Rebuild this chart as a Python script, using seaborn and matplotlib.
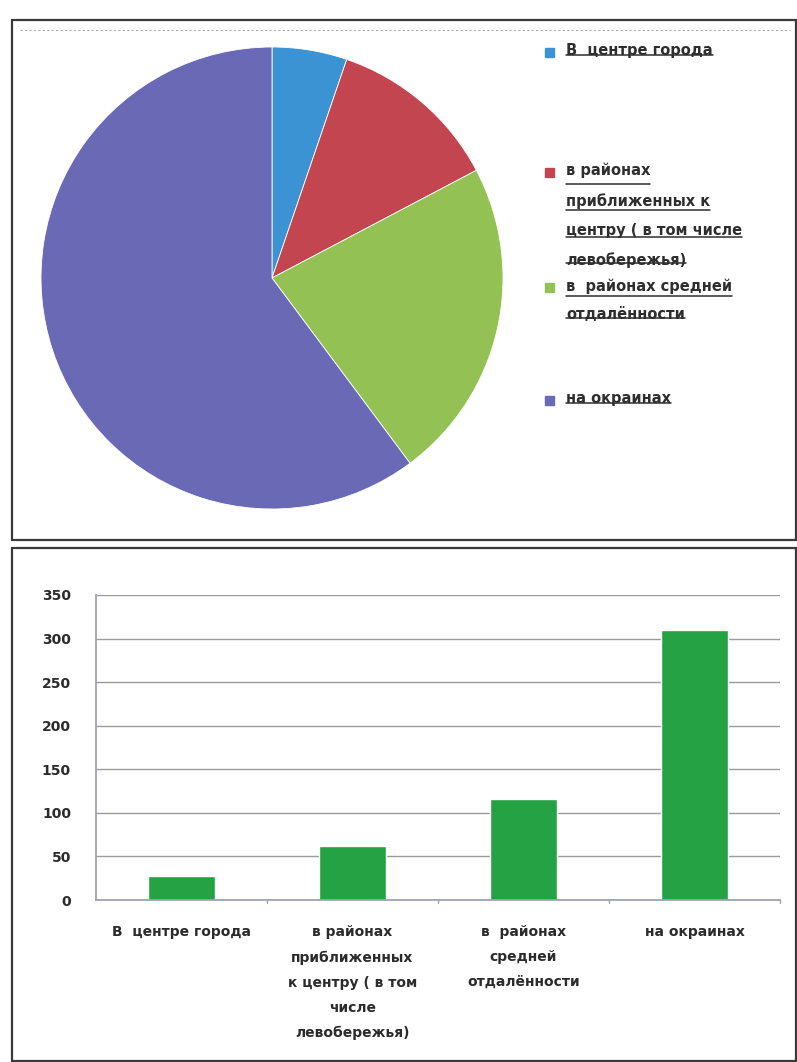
import matplotlib
matplotlib.use("Agg")
import matplotlib.pyplot as plt
import seaborn as sns
import pandas as pd
from matplotlib.patches import Rectangle
from matplotlib.lines import Line2D

# ---- data ----
pie_labels = ["В  центре города",
              "в районах\nприближенных к\nцентру ( в том числе\nлевобережья)",
              "в  районах средней\nотдалённости",
              "на окраинах"]
bar_labels = ["В  центре города",
              "в районах\nприближенных\nк центру ( в том\nчисле\nлевобережья)",
              "в  районах\nсредней\nотдалённости",
              "на окраинах"]
values = [27, 62, 116, 310]
pie_colors = ["#3b93d3", "#c2454f", "#94c153", "#6a69b5"]
bar_color = "#25a244"
yticks = [0, 50, 100, 150, 200, 250, 300, 350]

sns.set_theme(style="white")
plt.rcParams['font.family'] = ['DejaVu Sans']

W, H = 797, 1062
fig = plt.figure(figsize=(W / 100, H / 100), dpi=100)
fig.patch.set_facecolor("white")

def fx(x): return x / W
def fy(y): return 1 - y / H

# panel borders
for (x0, y0, x1, y1) in [(12, 20, 796, 540), (12, 548, 796, 1061)]:
    fig.patches.append(Rectangle((fx(x0), fy(y1)), fx(x1) - fx(x0), fy(y0) - fy(y1),
                                 transform=fig.transFigure, fill=False,
                                 edgecolor="#3a3a3a", linewidth=1.6))
fig.add_artist(Line2D([fx(20), fx(790)], [fy(30), fy(30)], transform=fig.transFigure,
                      color="#aaaaaa", linewidth=0.8, linestyle=(0, (2, 2))))

# ---- pie ----
cx, cy, r = 272, 278, 231
ax_pie = fig.add_axes([fx(cx - r), fy(cy + r), fx(2 * r), (2 * r) / H])
ax_pie.pie(values, colors=pie_colors, startangle=90, counterclock=False,
           wedgeprops=dict(linewidth=0.6, edgecolor="white"), radius=1.0)
ax_pie.set_xlim(-1, 1); ax_pie.set_ylim(-1, 1)
ax_pie.set_aspect("auto")
ax_pie.axis("off")

# legend (manual, underlined)
legend_y = [52, 172, 287, 400]
texts = []
for lab, col, y in zip(pie_labels, pie_colors, legend_y):
    fig.patches.append(Rectangle((fx(545), fy(y + 5)), fx(9), 9 / H,
                                 transform=fig.transFigure, color=col))
    t = fig.text(fx(566), fy(y - 9), lab, ha="left", va="top", fontsize=10.5,
                 fontweight="bold", color="#2e2e2e", linespacing=2.15,
                 family=["DejaVu Sans"])
    texts.append(t)

fig.canvas.draw()
renderer = fig.canvas.get_renderer()
for t in texts:
    lines = t.get_text().split("\n")
    bb = t.get_window_extent(renderer)
    n = len(lines)
    lh = bb.height / n
    for i, ln in enumerate(lines):
        tmp = fig.text(0, 0, ln, fontsize=10.5, fontweight="bold", family=["DejaVu Sans"])
        w = tmp.get_window_extent(renderer).width
        tmp.remove()
        ybase = bb.y1 - (i + 1) * lh + lh * 0.2
        fig.add_artist(Line2D([bb.x0 / W, (bb.x0 + w) / W], [ybase / H, ybase / H],
                              transform=fig.transFigure, color="#2e2e2e", linewidth=1.1))

# ---- bar chart ----
df = pd.DataFrame({"cat": bar_labels, "val": values})
ax = fig.add_axes([fx(96), fy(900), fx(780) - fx(96), (900 - 595) / H])
sns.barplot(data=df, x="cat", y="val", color=bar_color, saturation=1, width=0.39, ax=ax)
ax.set_ylim(0, 350)
ax.set_xlim(-0.5, 3.5)
ax.set_yticks(yticks)
ax.set_yticklabels([str(v) for v in yticks], fontsize=10, fontweight="bold", color="#2b2b2b")
ax.set_xticks(range(4))
ax.set_xticklabels(bar_labels, fontsize=10, fontweight="bold", color="#2b2b2b",
                   linespacing=2.0, va="top", ha="center")
ax.tick_params(axis="x", length=0, pad=18)
ax.tick_params(axis="y", length=0, pad=18)
ax.set_xlabel(""); ax.set_ylabel("")
ax.yaxis.grid(True, color="#9a9a9a", linewidth=1.0)
ax.set_axisbelow(True)
for s in ["top", "right"]:
    ax.spines[s].set_visible(False)
ax.spines["left"].set_color("#9aa0b0")
ax.spines["bottom"].set_color("#9aa0b0")
for xb in [0.5, 1.5, 2.5, 3.5]:
    ax.plot([xb, xb], [0, -4], color="#9aa0b0", clip_on=False, linewidth=1)
ax.set_facecolor("white")

fig.savefig("out.png", dpi=100)
